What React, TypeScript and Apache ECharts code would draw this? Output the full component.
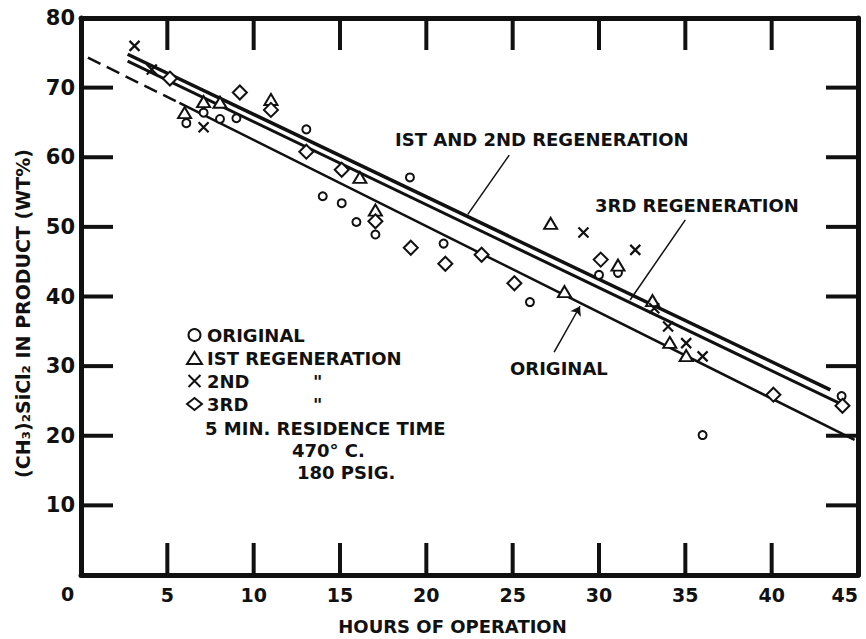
import React, { useEffect, useRef } from 'react';
import * as echarts from 'echarts';

const FONT = '"DejaVu Sans", "Liberation Sans", sans-serif';
const INK = '#111';

// Axis tick values (drawn inward on all four sides of the frame)
const xTickValues: number[] = [5, 10, 15, 20, 25, 30, 35, 40];
const yTickValues: number[] = [10, 20, 30, 40, 50, 60, 70];

// Measured points (hours, wt%)
const originalPts: number[][] = [
  [6.1, 64.9], [7.1, 66.4], [8.05, 65.5], [9.0, 65.6], [13.05, 64.0], [14.0, 54.4],
  [15.1, 53.4], [15.95, 50.7], [17.05, 48.9], [19.05, 57.1], [21.0, 47.6], [26.0, 39.2],
  [30.0, 43.1], [31.1, 43.4], [36.0, 20.1], [44.05, 25.7],
];
const firstRegenPts: number[][] = [
  [6.0, 66.4], [7.1, 68.0], [8.05, 67.9], [11.0, 68.3], [16.15, 57.1], [17.05, 52.4],
  [27.2, 50.5], [28.0, 40.7], [31.1, 44.5], [33.1, 39.4], [34.1, 33.4], [35.05, 31.5],
];
const secondRegenPts: number[][] = [
  [3.1, 76.0], [4.1, 72.6], [7.1, 64.3], [29.1, 49.2], [32.1, 46.7], [33.2, 38.3],
  [34.0, 35.7], [35.05, 33.3], [36.0, 31.4],
];
const thirdRegenPts: number[][] = [
  [5.15, 71.3], [9.2, 69.3], [11.0, 66.8], [13.05, 60.8], [15.1, 58.2], [17.05, 50.8],
  [19.1, 47.0], [21.1, 44.7], [23.2, 46.0], [25.1, 41.9], [30.1, 45.3], [40.1, 25.9],
  [44.1, 24.3],
];

// Fitted lines
const originalDashed: number[][] = [[0.4, 74.3], [5.7, 67.8]];
const originalLine: number[][] = [[5.7, 67.8], [44.8, 19.4]];
const firstSecondLine: number[][] = [[2.7, 74.8], [43.4, 26.6]];
const thirdLine: number[][] = [[2.7, 73.8], [44.4, 24.1]];

// Leader lines for labels
const leader12: number[][] = [[24.8, 60.3], [22.4, 51.8]];
const leader3: number[][] = [[35.0, 51.0], [31.8, 39.5]];
const leaderOrig: number[][] = [[27.4, 32.0], [28.9, 38.6]];

const legendNames = ['ORIGINAL', 'IST REGENERATION', '2ND REGENERATION', '3RD REGENERATION'];

const X_MIN = 0, X_MAX = 45, Y_MIN = 0, Y_MAX = 80;
const TICK_PX = 32;

const markerStyle = () => ({ color: '#fff', borderColor: INK, borderWidth: 2, opacity: 1 });
const axisLine = () => ({ show: true, onZero: false, lineStyle: { color: INK, width: 5 } });

function lineSeries(data: any[], width: number, type: any = 'solid') {
  return {
    type: 'line',
    data,
    showSymbol: false,
    symbol: 'none',
    silent: true,
    lineStyle: { color: INK, width, type },
    z: 1,
  };
}

export default function App() {
  const ref = useRef<HTMLDivElement>(null);
  useEffect(() => {
    if (!ref.current) return;
    const chart = echarts.init(ref.current, null, { renderer: 'svg' });
    const textBase = { fontFamily: FONT, fontSize: 18, fontWeight: 'bold', fill: INK, verticalAlign: 'middle' };
    const texts: any[] = [
      { type: 'text', left: 61, top: 584, style: { text: '0', fontFamily: FONT, fontSize: 19, fontWeight: 'bold', fill: INK } },
      { type: 'text', x: 395, y: 139, style: { ...textBase, text: 'IST AND 2ND REGENERATION' } },
      { type: 'text', x: 595, y: 205, style: { ...textBase, text: '3RD REGENERATION' } },
      { type: 'text', x: 510, y: 368, style: { ...textBase, text: 'ORIGINAL' } },
      { type: 'text', x: 205, y: 428, style: { ...textBase, text: '5 MIN. RESIDENCE TIME' } },
      { type: 'text', x: 292, y: 450, style: { ...textBase, text: '470\u00B0 C.' } },
      { type: 'text', x: 297, y: 472, style: { ...textBase, text: '180 PSIG.' } },
    ];
    const option: any = {
      animation: false,
      backgroundColor: '#fff',
      grid: { left: 81, right: 8, top: 18, bottom: 64, containLabel: false, outerBoundsMode: 'none' },
      xAxis: [
        {
          type: 'value', min: X_MIN, max: X_MAX, interval: 5, position: 'bottom',
          axisLine: axisLine(), axisTick: { show: false }, splitLine: { show: false },
          axisLabel: {
            margin: 10, color: INK, fontFamily: FONT, fontSize: 19, fontWeight: 'bold', alignMaxLabel: 'right',
            formatter: (v: number) => (v === 0 ? '' : String(v)),
          },
          name: 'HOURS OF OPERATION', nameLocation: 'middle', nameGap: 42,
          nameTextStyle: { color: INK, fontFamily: FONT, fontSize: 18, fontWeight: 'bold', padding: [0, 34, 0, 0] },
        },
        {
          type: 'value', min: X_MIN, max: X_MAX, interval: 5, position: 'top',
          axisLine: axisLine(), axisTick: { show: false }, axisLabel: { show: false }, splitLine: { show: false },
        },
      ],
      yAxis: [
        {
          type: 'value', min: Y_MIN, max: Y_MAX, interval: 10, position: 'left',
          axisLine: axisLine(), axisTick: { show: false }, splitLine: { show: false },
          axisLabel: {
            margin: 6, color: INK, fontFamily: FONT, fontSize: 21, fontWeight: 'bold',
            formatter: (v: number) => (v === 0 ? '' : String(v)),
          },
          name: '(CH\u2083)\u2082SiCl\u2082 IN PRODUCT (WT%)', nameLocation: 'middle', nameGap: 49,
          nameRotate: 90,
          nameTextStyle: { color: INK, fontFamily: FONT, fontSize: 19, fontWeight: 'bold', padding: [0, 34, 0, 0] },
        },
        {
          type: 'value', min: Y_MIN, max: Y_MAX, interval: 10, position: 'right',
          axisLine: axisLine(), axisTick: { show: false }, axisLabel: { show: false }, splitLine: { show: false },
        },
      ],
      legend: {
        data: legendNames,
        orient: 'vertical',
        left: 181,
        top: 320,
        itemWidth: 15,
        itemHeight: 12,
        itemGap: 3,
        selectedMode: false,
        formatter: (n: string) => {
          if (n === '2ND REGENERATION') return '{a|2ND}{q|"}';
          if (n === '3RD REGENERATION') return '{a|3RD}{q|"}';
          return n;
        },
        textStyle: {
          color: INK, fontFamily: FONT, fontSize: 18, fontWeight: 'bold', lineHeight: 20,
          rich: {
            a: { width: 106, color: INK, fontFamily: FONT, fontSize: 18, fontWeight: 'bold', lineHeight: 20 },
            q: { color: INK, fontFamily: FONT, fontSize: 18, fontWeight: 'bold', lineHeight: 20 },
          },
        },
      },
      series: [
        lineSeries(originalDashed, 2.5, [14, 7]),
        lineSeries(originalLine, 2.5),
        lineSeries(firstSecondLine, 3.5),
        lineSeries(thirdLine, 3),
        lineSeries(leader12, 1.5),
        lineSeries(leader3, 1.5),
        {
          type: 'lines', coordinateSystem: 'cartesian2d', silent: true,
          data: [{ coords: leaderOrig }],
          symbol: ['none', 'arrow'], symbolSize: 9,
          lineStyle: { color: INK, width: 1.5, opacity: 1 },
          itemStyle: { color: INK },
          z: 2,
        },
        {
          name: 'ORIGINAL', type: 'scatter', data: originalPts, symbol: 'circle', symbolSize: 8,
          itemStyle: markerStyle(), z: 3,
        },
        {
          name: 'IST REGENERATION', type: 'scatter', data: firstRegenPts, symbol: 'triangle',
          symbolSize: [13, 11], itemStyle: markerStyle(), z: 3,
        },
        {
          name: '2ND REGENERATION', type: 'scatter', data: secondRegenPts,
          symbol: 'path://M0,0L10,10M10,0L0,10', symbolSize: 10,
          itemStyle: { color: 'transparent', borderColor: INK, borderWidth: 2.2, opacity: 1 }, z: 3,
        },
        {
          name: '3RD REGENERATION', type: 'scatter', data: thirdRegenPts, symbol: 'diamond',
          symbolSize: 14, itemStyle: markerStyle(), z: 3,
        },
      ],
      graphic: texts,
    };
    chart.setOption(option);

    // Inward tick marks on all four sides, positioned through the chart's own scales
    const finder = { xAxisIndex: 0, yAxisIndex: 0 };
    const ticks: any[] = [];
    const tickStyle = () => ({ stroke: INK, lineWidth: 4 });
    xTickValues.forEach((v) => {
      const b = chart.convertToPixel(finder, [v, Y_MIN]) as number[];
      const t = chart.convertToPixel(finder, [v, Y_MAX]) as number[];
      ticks.push({ type: 'line', z: 10, silent: true, shape: { x1: b[0], y1: b[1], x2: b[0], y2: b[1] - TICK_PX }, style: tickStyle() });
      ticks.push({ type: 'line', z: 10, silent: true, shape: { x1: t[0], y1: t[1], x2: t[0], y2: t[1] + TICK_PX }, style: tickStyle() });
    });
    yTickValues.forEach((v) => {
      const l = chart.convertToPixel(finder, [X_MIN, v]) as number[];
      const r = chart.convertToPixel(finder, [X_MAX, v]) as number[];
      ticks.push({ type: 'line', z: 10, silent: true, shape: { x1: l[0], y1: l[1], x2: l[0] + TICK_PX, y2: l[1] }, style: tickStyle() });
      ticks.push({ type: 'line', z: 10, silent: true, shape: { x1: r[0], y1: r[1], x2: r[0] - TICK_PX, y2: r[1] }, style: tickStyle() });
    });
    chart.setOption({ graphic: [...texts, ...ticks] });

    return () => chart.dispose();
  }, []);
  return (
    <div
      ref={ref}
      style={{ position: 'fixed', left: 0, top: 0, width: 866, height: 639, background: '#fff' }}
    />
  );
}
